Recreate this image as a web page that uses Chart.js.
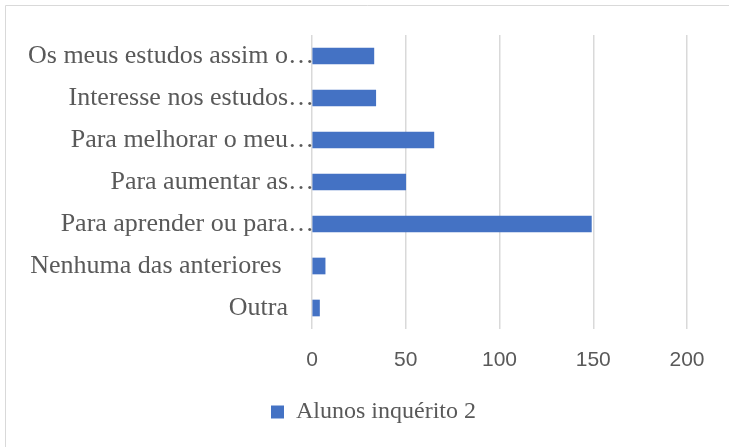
<!DOCTYPE html>
<html>
<head>
<meta charset="utf-8">
<script src="https://cdn.jsdelivr.net/npm/chart.js@4/dist/chart.umd.min.js"></script>
<style>
  html, body { margin: 0; padding: 0; background: #ffffff; }
  #wrap { width: 729px; height: 447px; position: relative; }
</style>
</head>
<body>
<div id="wrap"><canvas id="c" width="729" height="447"></canvas></div>
<script>
const categories = [
  "Os meus estudos assim o…",
  "Interesse nos estudos…",
  "Para melhorar o meu…",
  "Para aumentar as…",
  "Para aprender ou para…",
  "Nenhuma das anteriores ",
  "Outra"
];
const seriesName = "Alunos inquérito 2";
const values = [33, 34, 65, 50, 149, 7, 4];
const xMin = 0, xMax = 200, xStep = 50;

const TEXT = '#595959';
const SERIF = "'Liberation Serif', 'Times New Roman', serif";
const SANS = "'Liberation Sans', Arial, sans-serif";

const frame = {
  id: 'frame',
  beforeDraw(chart) {
    const ctx = chart.ctx;
    ctx.save();
    ctx.strokeStyle = '#d9d9d9';
    ctx.lineWidth = 1;
    ctx.beginPath();
    ctx.moveTo(5.5, chart.height);
    ctx.lineTo(5.5, 5.5);
    ctx.lineTo(chart.width, 5.5);
    ctx.stroke();
    ctx.restore();
  }
};

const catLabels = {
  id: 'catLabels',
  afterDraw(chart) {
    const ctx = chart.ctx;
    const y = chart.scales.y;
    const rightX = chart.chartArea.left - 24;
    ctx.save();
    ctx.font = '26px ' + SERIF;
    ctx.fillStyle = TEXT;
    ctx.textBaseline = 'middle';
    categories.forEach((lab, i) => {
      const py = y.getPixelForValue(i);
      if (lab.endsWith('…')) {
        const main = lab.slice(0, -1);
        ctx.textAlign = 'right';
        ctx.fillText(main, rightX, py);
        ctx.textAlign = 'left';
        ctx.fillText('…', rightX, py);
      } else {
        ctx.textAlign = 'right';
        ctx.fillText(lab, rightX, py);
      }
    });
    ctx.restore();
  }
};

new Chart(document.getElementById('c'), {
  type: 'bar',
  data: {
    labels: categories,
    datasets: [{
      label: seriesName,
      data: values,
      backgroundColor: '#4472C4',
      borderWidth: 0,
      barThickness: 16
    }]
  },
  options: {
    indexAxis: 'y',
    responsive: false,
    animation: false,
    layout: { padding: { top: 35, right: 42, bottom: 13, left: 60 } },
    plugins: {
      legend: {
        position: 'bottom',
        labels: {
          font: { family: SERIF, size: 24 },
          color: TEXT,
          boxWidth: 13,
          boxHeight: 13,
          padding: 10
        }
      },
      tooltip: { enabled: false }
    },
    scales: {
      x: {
        min: xMin,
        max: xMax,
        ticks: {
          stepSize: xStep,
          font: { family: SANS, size: 21 },
          color: TEXT,
          padding: 19
        },
        grid: { color: '#d9d9d9', lineWidth: 1.5, drawTicks: false },
        border: { display: false },
        afterFit(s) { s.height = 61; }
      },
      y: {
        ticks: { display: false },
        grid: { display: false },
        border: { display: false },
        afterFit(s) { s.width = 252; }
      }
    }
  },
  plugins: [frame, catLabels]
});
</script>
</body>
</html>
